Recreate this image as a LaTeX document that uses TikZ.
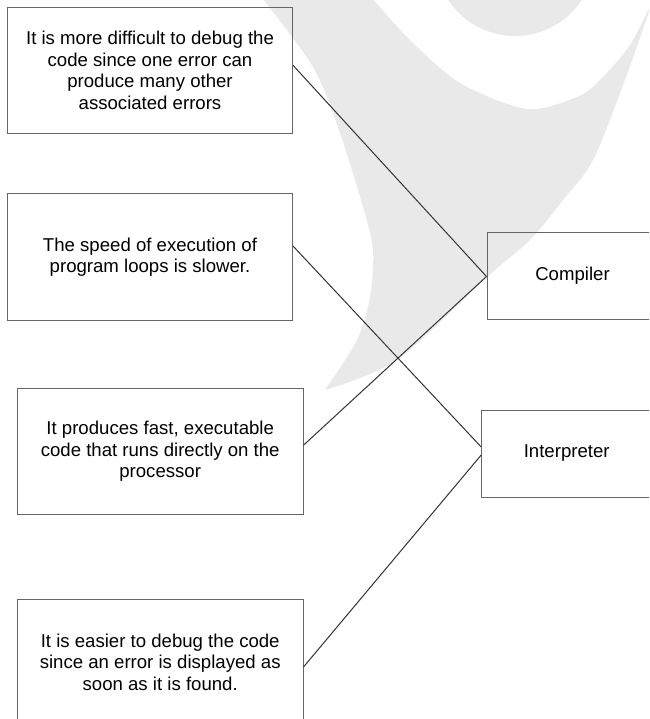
\documentclass[tikz,border=0pt]{standalone}
\usepackage{fontspec}
\setmainfont{Liberation Sans}
\usetikzlibrary{calc}
\definecolor{wmgrey}{HTML}{E9E9E9}
\begin{document}
\begin{tikzpicture}[x=1pt,y=-1pt,
  txtbox/.style={draw=black!60, line width=1pt, align=center, inner sep=0pt,
    font=\fontsize{18.6}{21.6}\selectfont},
  optbox/.style={txtbox, minimum width=285pt, minimum height=126pt},
  kindbox/.style={txtbox, minimum height=87pt},
  link/.style={draw=black!80, line width=1pt}]
\useasboundingbox (0,0) rectangle (649,719);
\clip (0,0) rectangle (649,719);
% watermark
\fill[wmgrey] plot[smooth] coordinates {(262,-2) (313,67) (340,133) (363,207) (373,250) (370,297) (357,340) (325,390)}
  -- plot[smooth] coordinates {(325,390) (397,360) (487,277) (530,240) (563,200) (593,160) (625,80) (653,0)}
  -- plot[smooth] coordinates {(653,0) (630,45) (600,80) (577,97) (527,109) (460,83) (410,40) (372,-2)}
  -- cycle;
\fill[wmgrey] (515,-44) circle[radius=80pt];
% boxes
\node[optbox] (b1) at (150,70.3) {It is more difficult to debug the\\code since one error can\\produce many other\\associated errors};
\node[optbox] (b2) at (150,257) {The speed of execution of\\program loops is slower.};
\node[optbox, minimum width=285.6pt] (b3) at (160.2,451.2) {It produces fast, executable\\code that runs directly on the\\processor};
\node[optbox, minimum width=285.6pt] (b4) at (160.2,662.3) {It is easier to debug the code\\since an error is displayed as\\soon as it is found.};
\node[kindbox, minimum width=171pt] (comp) at (572.5,275.5) {Compiler};
\node[kindbox, minimum width=170pt] (interp) at (566.7,453.5) {Interpreter};
% connectors
\draw[link] ($(b1.east)+(0,-5)$) -- ($(comp.west)+(0,1)$);
\draw[link] ($(b2.east)+(0,-11)$) -- ($(interp.west)+(0,-6.5)$);
\draw[link] ($(b3.east)+(0,-6)$) -- ($(comp.west)+(0,1)$);
\draw[link] ($(b4.east)+(0,4.7)$) -- ($(interp.west)+(0,1.5)$);
\end{tikzpicture}
\end{document}
